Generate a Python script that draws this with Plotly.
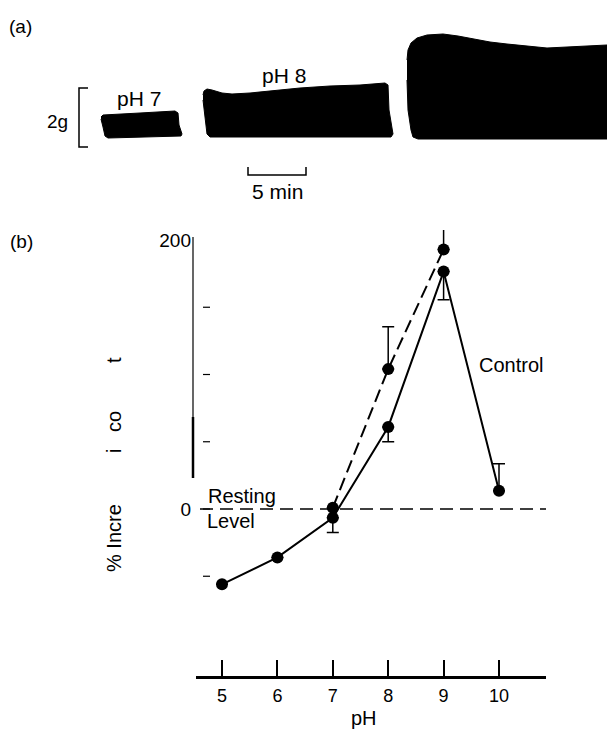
import plotly.graph_objects as go

W, H = 607, 731

# ---------------- data (panel b) ----------------
ph = [5, 6, 7, 8, 9, 10]
control = [-56, -36, -6.5, 61, 176.5, 13.6]
control_err_plus = [0, 0, 0, 0, 0, 20]
control_err_minus = [0, 0, 11, 11, 21, 0]

ph_treated = [7, 8, 9]
treated = [1, 104, 193]
treated_err_plus = [0, 31.5, 55]
treated_err_minus = [0, 0, 0]

y_tickvals = [-50, 0, 50, 100, 150, 200]
y_ticktext = ["", "0", "", "", "", "200"]
x_tickvals = [5, 6, 7, 8, 9, 10]

# ---------------- panel (a) recording outlines (pixel space) ----------------
blk7_x = [101, 103, 140, 175, 178, 179, 182, 181, 108, 105, 103, 101]
blk7_y = [117, 115, 113, 111, 113, 125, 134, 136, 138, 136, 127, 119]
blk8_x = [203, 204, 207, 212, 222, 232, 250, 270, 300, 330, 360, 385, 388, 389, 393, 391, 210, 207, 205, 203]
blk8_y = [95, 91, 89, 90, 93, 94, 93, 91, 88, 86, 85, 83, 85, 110, 134, 137, 137, 134, 115, 100]
blk9_x = [407, 408, 411, 417, 427, 443, 458, 473, 490, 507, 527, 547, 567, 587, 607, 607, 418, 413, 411, 408, 407]
blk9_y = [60, 50, 43, 38, 35, 34, 36, 39, 42, 44, 46, 48, 47, 46, 45, 139, 139, 137, 130, 110, 80]

FONT = "Liberation Sans, Arial, Helvetica, sans-serif"

# mapping of panel (b) axes to pixels
X_PX0, X_PX1 = 196, 546
Y_PX_BOT, Y_PX_TOP = 676, 230
x_range = [5 + (X_PX0 - 222) / 55.4, 5 + (X_PX1 - 222) / 55.4]
y_range = [(509 - Y_PX_BOT) / 1.345, (509 - Y_PX_TOP) / 1.345]

fig = go.Figure()

# panel (a) blocks (pixel-space axes x2/y2 covering the whole figure)
for bx, by in [(blk7_x, blk7_y), (blk8_x, blk8_y), (blk9_x, blk9_y)]:
    fig.add_trace(go.Scatter(
        x=bx, y=by, mode="lines", fill="toself", fillcolor="black",
        line=dict(color="black", width=1), xaxis="x2", yaxis="y2",
        showlegend=False, hoverinfo="skip",
    ))

# control (solid)
fig.add_trace(go.Scatter(
    x=ph, y=control, mode="lines+markers",
    line=dict(color="black", width=2),
    marker=dict(color="black", size=12),
    error_y=dict(type="data", symmetric=False, array=control_err_plus,
                 arrayminus=control_err_minus, color="black", thickness=1.5, width=6),
    xaxis="x", yaxis="y", showlegend=False,
))
# treated (dashed)
fig.add_trace(go.Scatter(
    x=ph_treated, y=treated, mode="lines+markers",
    line=dict(color="black", width=2, dash="13px,6px"),
    marker=dict(color="black", size=12),
    error_y=dict(type="data", symmetric=False, array=treated_err_plus,
                 arrayminus=treated_err_minus, color="black", thickness=1.5, width=6),
    xaxis="x", yaxis="y", showlegend=False,
))

shapes = []
# resting level dashed line at 0
shapes.append(dict(type="line", xref="paper", yref="y", x0=200 / W, x1=X_PX1 / W, y0=0, y1=0,
                   line=dict(color="black", width=1.5, dash="13px,7px")))
# y axis line (thin upper, thick lower)
shapes.append(dict(type="line", xref="x2", yref="y2", x0=193, x1=193, y0=237, y1=478,
                   line=dict(color="black", width=1.2)))
shapes.append(dict(type="line", xref="x2", yref="y2", x0=193, x1=193, y0=417, y1=478,
                   line=dict(color="black", width=2.5)))
# y tick dashes
for v in y_tickvals[:-1]:
    shapes.append(dict(type="line", xref="x2", yref="y", x0=203, x1=210, y0=v, y1=v,
                       line=dict(color="black", width=1.2)))
# 2g bracket
shapes.append(dict(type="path", xref="x2", yref="y2",
                   path="M 88 88 L 79 88 L 79 147 L 88 147",
                   line=dict(color="black", width=1.5)))
# 5 min scale bar
shapes.append(dict(type="path", xref="x2", yref="y2",
                   path="M 248 167 L 248 175 L 306 175 L 306 167",
                   line=dict(color="black", width=1.5)))

annotations = []
def txt(s, x, y, size=20, angle=0):
    annotations.append(dict(text=s, x=x, y=y, xref="x2", yref="y2", showarrow=False,
                            font=dict(family=FONT, size=size, color="black"),
                            xanchor="center", yanchor="middle", textangle=angle))

txt("(a)", 20, 26, 19)
txt("(b)", 21, 241, 19)
txt("2g", 57, 121, 19)
txt("pH 7", 139, 98, 21)
txt("pH 8", 284, 75, 21)
txt("5 min", 277, 191, 21)
txt("Resting", 242, 496, 20)
txt("Level", 231, 521, 20)
txt("Control", 511, 365, 20)
txt("pH", 364, 718, 20)
# y-axis title fragments (degraded print)
txt("% Incre", 114, 538, 20, -90)
txt("i", 114, 451, 20, -90)
txt("co", 114, 422, 20, -90)
txt("t", 114, 360, 20, -90)

fig.update_layout(
    width=W, height=H,
    margin=dict(l=0, r=0, t=0, b=0),
    paper_bgcolor="white", plot_bgcolor="rgba(0,0,0,0)",
    font=dict(family=FONT, color="black"),
    xaxis=dict(domain=[X_PX0 / W, X_PX1 / W], range=x_range, anchor="y",
               tickvals=x_tickvals, ticks="inside", ticklen=16, tickwidth=1.5, tickcolor="black",
               showline=True, linecolor="black", linewidth=2.5, showgrid=False, zeroline=False,
               tickfont=dict(family=FONT, size=18), ticklabelstandoff=2),
    yaxis=dict(domain=[1 - Y_PX_BOT / H, 1 - Y_PX_TOP / H], range=y_range, anchor="x",
               tickvals=y_tickvals, ticktext=y_ticktext, ticks="",
               showline=False, showgrid=False, zeroline=False,
               tickfont=dict(family=FONT, size=19), ticklabelstandoff=4),
    xaxis2=dict(domain=[0, 1], range=[0, W], anchor="y2", visible=False, fixedrange=True),
    yaxis2=dict(domain=[0, 1], range=[H, 0], anchor="x2", visible=False, fixedrange=True),
    shapes=shapes, annotations=annotations,
)

fig.write_html("out.html")
